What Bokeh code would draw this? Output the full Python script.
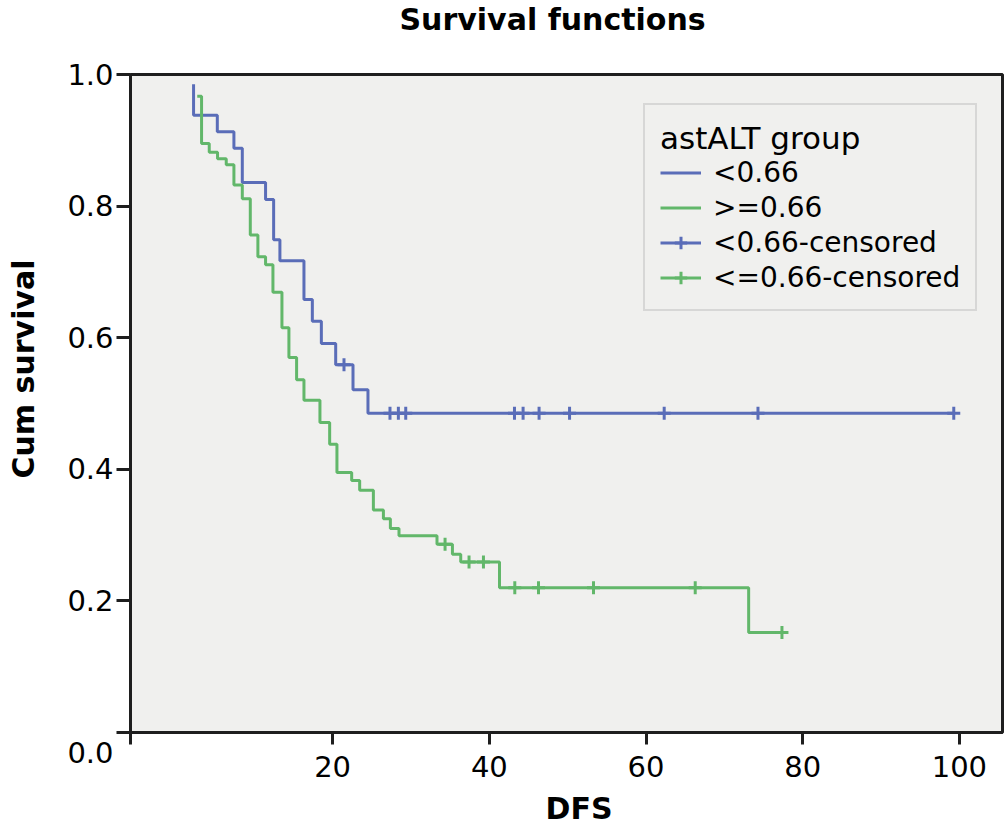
from bokeh.plotting import figure
from bokeh.models import (Range1d, FixedTicker, Legend, LegendItem, Title,
                          PrintfTickFormatter)
from bokeh.embed import file_html
from bokeh.resources import INLINE

# Kaplan-Meier estimates for DFS, split by astALT group
low_times = [2.25, 2.25, 5.28, 7.40, 8.47, 11.44, 12.47, 13.27, 16.34, 17.41,
             18.56, 20.39, 22.60, 24.51, 99.28]
low_surv = [0.985, 0.938, 0.913, 0.888, 0.836, 0.810, 0.749, 0.717, 0.658, 0.625,
            0.591, 0.559, 0.521, 0.485, 0.485]

high_times = [2.72, 3.27, 4.25, 5.31, 6.42, 7.40, 8.47, 9.49, 10.46, 11.44,
              12.38, 13.53, 14.42, 15.40, 16.34, 18.38, 19.62, 20.55, 22.43, 23.45,
              25.20, 26.48, 27.37, 28.47, 33.32, 35.29, 36.35, 41.30, 73.10, 77.35]
high_surv = [0.967, 0.895, 0.882, 0.872, 0.863, 0.832, 0.811, 0.756, 0.723, 0.711,
             0.669, 0.615, 0.570, 0.536, 0.505, 0.471, 0.438, 0.395, 0.383, 0.368,
             0.338, 0.325, 0.310, 0.299, 0.286, 0.271, 0.259, 0.220, 0.152, 0.152]

# censored observations
low_cens_times = [21.45, 27.32, 28.39, 29.33, 43.21, 44.31, 46.35, 50.24, 62.32, 74.29, 99.28]
low_cens_surv = [0.559, 0.485, 0.485, 0.485, 0.485, 0.485, 0.485, 0.485, 0.485, 0.485, 0.485]
high_cens_times = [34.35, 37.41, 39.25, 43.25, 46.28, 53.30, 66.28, 77.35]
high_cens_surv = [0.286, 0.259, 0.259, 0.220, 0.220, 0.220, 0.220, 0.152]

x_ticks = [20, 40, 60, 80, 100]
y_ticks = [0.0, 0.2, 0.4, 0.6, 0.8, 1.0]

X_START, X_END = -5.8, 105.5

BLUE = "#5A6DB8"
GREEN = "#62B76A"
BG = "#F0F0EE"
INK = "#1E1E1E"
FONT = "DejaVu Sans"

p = figure(width=1005, height=838, output_backend="svg", toolbar_location=None,
           x_range=Range1d(X_START, X_END), y_range=Range1d(0, 1.0),
           min_border_left=130, min_border_right=3, min_border_top=74, min_border_bottom=106,
           background_fill_color=BG, border_fill_color="white")

p.grid.visible = False
p.outline_line_color = INK
p.outline_line_width = 3

# outer titles; the blank line pushes each text away from the frame
p.title = Title(text="Survival functions\n", align="left", offset=269, standoff=2,
                vertical_align="top", text_line_height=1.0,
                text_font=FONT, text_font_size="30px", text_font_style="bold",
                text_color="black")
p.add_layout(Title(text="Cum survival\n", align="left", offset=254, standoff=0,
                   vertical_align="top", text_line_height=0.63,
                   text_font=FONT, text_font_size="30px", text_font_style="bold",
                   text_color="black"), "left")
p.add_layout(Title(text="\nDFS", align="left", offset=415, standoff=0,
                   vertical_align="top", text_line_height=0.34,
                   text_font=FONT, text_font_size="30px", text_font_style="bold",
                   text_color="black"), "below")

# axes
xa = p.xaxis[0]
xa.ticker = FixedTicker(ticks=[X_START] + x_ticks)
xa.major_label_overrides = {X_START: ""}
ya = p.yaxis[0]
ya.ticker = FixedTicker(ticks=y_ticks)
ya.formatter = PrintfTickFormatter(format="%.1f")
# the origin label hangs just below the corner
ya.major_label_overrides = {0.0: "\n0.0"}
for ax in (xa, ya):
    ax.axis_line_color = INK
    ax.axis_line_width = 3
    ax.major_tick_line_color = INK
    ax.major_tick_line_width = 3
    ax.major_tick_in = 0
    ax.minor_tick_line_color = None
    ax.major_label_text_font = FONT
    ax.major_label_text_font_size = "29px"
    ax.major_label_text_color = "black"
xa.major_tick_out = 12
xa.major_label_standoff = 11
ya.major_tick_out = 14
ya.major_label_standoff = 3

# survival curves
low_step = p.step(low_times, low_surv, mode="after", line_color=BLUE, line_width=3)
high_step = p.step(high_times, high_surv, mode="after", line_color=GREEN, line_width=3)
low_cens = p.scatter(low_cens_times, low_cens_surv, marker="cross", size=13,
                     line_color=BLUE, line_width=3)
high_cens = p.scatter(high_cens_times, high_cens_surv, marker="cross", size=13,
                      line_color=GREEN, line_width=3)

legend = Legend(
    items=[
        LegendItem(label="<0.66", renderers=[low_step]),
        LegendItem(label=">=0.66", renderers=[high_step]),
        LegendItem(label="<0.66-censored", renderers=[low_step, low_cens]),
        LegendItem(label="<=0.66-censored", renderers=[high_step, high_cens]),
    ],
    location=(513, 421),
    title="astALT group",
    title_text_font=FONT, title_text_font_size="31px", title_text_font_style="normal",
    title_text_color="black", title_standoff=0,
    label_text_font=FONT, label_text_font_size="28px", label_text_color="black",
    padding=15, spacing=2, margin=0,
    glyph_width=41, glyph_height=31, label_height=31, label_standoff=12,
    border_line_color="#BDBDBD", border_line_width=2,
    background_fill_color=BG, background_fill_alpha=1.0,
)
p.add_layout(legend)

open("out.html", "w").write(file_html(p, INLINE))
